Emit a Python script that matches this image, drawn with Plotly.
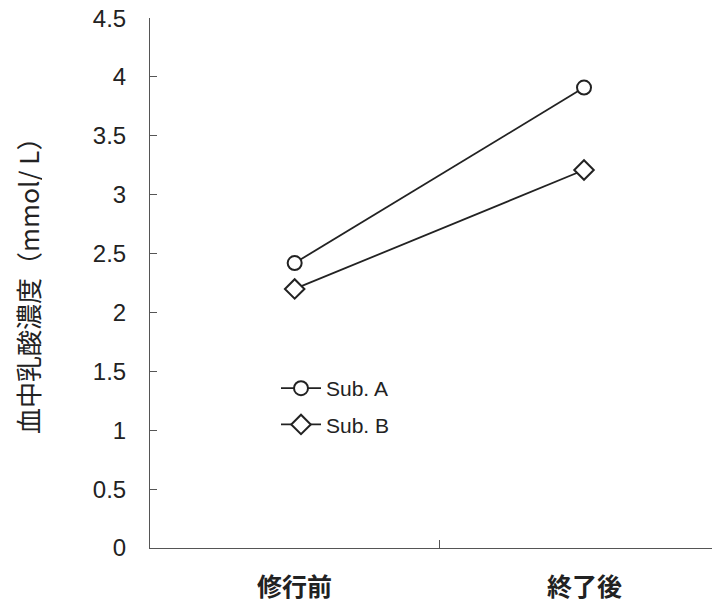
import plotly.graph_objects as go

categories = ["修行前", "終了後"]
sub_a = [2.42, 3.91]
sub_b = [2.20, 3.21]
y_ticks = [0, 0.5, 1, 1.5, 2, 2.5, 3, 3.5, 4, 4.5]
y_tick_labels = ["0", "0.5", "1", "1.5", "2", "2.5", "3", "3.5", "4", "4.5"]

OFF = 8  # page body margin
W, H = 720 - OFF, 601 - OFF
L, R, T, B = 150 - OFF, 0, 18 - OFF, 53
PW, PH = W - L - R, H - T - B
BOT = T + PH  # figure y of plot bottom


def px(xp):
    return (xp - OFF - L) / PW


def py(yp):
    return (BOT - (yp - OFF)) / PH


fig = go.Figure()
fig.add_trace(go.Scatter(
    x=[0, 1], y=sub_a, name="Sub. A", mode="lines+markers", legendgroup="a",
    line=dict(color="#222222", width=1.8),
    marker=dict(symbol="circle", size=14, color="white", line=dict(color="#222222", width=2)),
))
fig.add_trace(go.Scatter(
    x=[0, 1], y=sub_b, name="Sub. B", mode="lines+markers", legendgroup="b",
    line=dict(color="#222222", width=1.8),
    marker=dict(symbol="diamond", size=15, color="white", line=dict(color="#222222", width=2)),
))

fig.update_layout(
    width=W, height=H,
    margin=dict(l=L, r=R, t=T, b=B, autoexpand=False),
    paper_bgcolor="white", plot_bgcolor="white",
    font=dict(family="Liberation Sans, Arial, sans-serif", color="#222222"),
    showlegend=True,
    legend=dict(x=px(276), y=py(368), xanchor="left", yanchor="top",
                font=dict(size=21, family="Liberation Sans, Arial, sans-serif", color="#222222"),
                bgcolor="rgba(0,0,0,0)", tracegroupgap=6, itemwidth=40),
    xaxis=dict(
        range=[-0.5, 1.47], tickmode="array", tickvals=[0.5], ticktext=[""],
        ticks="inside", ticklen=8, tickcolor="#555555", tickwidth=1,
        showline=True, linecolor="#555555", linewidth=1,
        showgrid=False, zeroline=False, automargin=False,
    ),
    yaxis=dict(
        range=[0, 4.501], tickmode="array", tickvals=y_ticks, ticktext=y_tick_labels,
        ticks="inside", ticklen=7, tickcolor="#555555", tickwidth=1,
        showline=True, linecolor="#555555", linewidth=1,
        showgrid=False, zeroline=False, automargin=False,
        tickfont=dict(size=24, family="Liberation Sans, Arial, sans-serif", color="#222222"),
        ticklabelstandoff=18, ticklabeloverflow="allow",
    ),
)

for i, c in enumerate(categories):
    fig.add_annotation(
        x=i, y=py(585), xref="x", yref="paper", xanchor="center", yanchor="middle",
        text="<b>" + c + "</b>", height=28,
        showarrow=False, font=dict(size=25, family="Noto Sans CJK JP", color="#222222"),
    )

fig.add_annotation(
    x=px(27), y=py(280), xref="paper", yref="paper", xanchor="center", yanchor="middle",
    text="血中乳酸濃度（mmol/ L）", height=30,
    showarrow=False, textangle=-90,
    font=dict(size=26, family="Noto Sans CJK JP", color="#222222"),
)

fig.write_html("out.html")
